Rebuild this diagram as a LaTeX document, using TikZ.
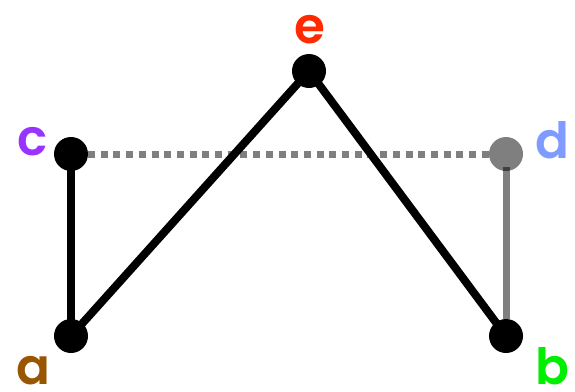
\documentclass[tikz,border=0pt]{standalone}
\usepackage{fontspec}
\setmainfont{Poppins}[BoldFont={Poppins SemiBold}]
\usetikzlibrary{backgrounds}
\definecolor{lblA}{HTML}{995500}
\definecolor{lblB}{HTML}{00EE00}
\definecolor{lblC}{HTML}{9933FF}
\definecolor{lblD}{HTML}{7F9BFF}
\definecolor{lblE}{HTML}{FF2A00}
\tikzset{
  vert/.style={circle, fill=black, minimum size=34pt, inner sep=0pt, outer sep=0pt},
  ghost/.style={vert, fill opacity=0.5},
  edge/.style={line width=8pt, black},
  faint/.style={line width=7pt, black, draw opacity=0.5},
  dots/.style={faint, dash pattern=on 7pt off 5.7pt},
  lbl/.style={anchor=base, font=\fontsize{50}{50}\selectfont\bfseries, inner sep=0pt}
}
\begin{document}
\begin{tikzpicture}[x=1pt, y=-1pt]
  \useasboundingbox (0,0) rectangle (575,391);
  % vertices
  \node[vert]  (a) at (71,336) {};
  \node[vert]  (b) at (506,336) {};
  \node[vert]  (c) at (71,154) {};
  \node[ghost] (d) at (506,154) {};
  \node[vert]  (e) at (309,71) {};
  % labels
  \node[lbl, text=lblA] (la) at (33,384) {a};
  \node[lbl, text=lblB] (lb) at (552,384) {b};
  \node[lbl, text=lblC] (lc) at (33,155) {c};
  \node[lbl, text=lblD] (ld) at (552,158) {d};
  \node[lbl, text=lblE] (le) at (310,43) {e};
  % edges
  \begin{scope}[on background layer]
    \draw[edge] (a.center) -- (c.center);
    \draw[edge] (a.center) -- (e.center) -- (b.center);
    \draw[dots] (c) -- (d) [shorten >=-4pt];
    \draw[faint, shorten >=-4pt] (b) -- (d);
  \end{scope}
\end{tikzpicture}
\end{document}
